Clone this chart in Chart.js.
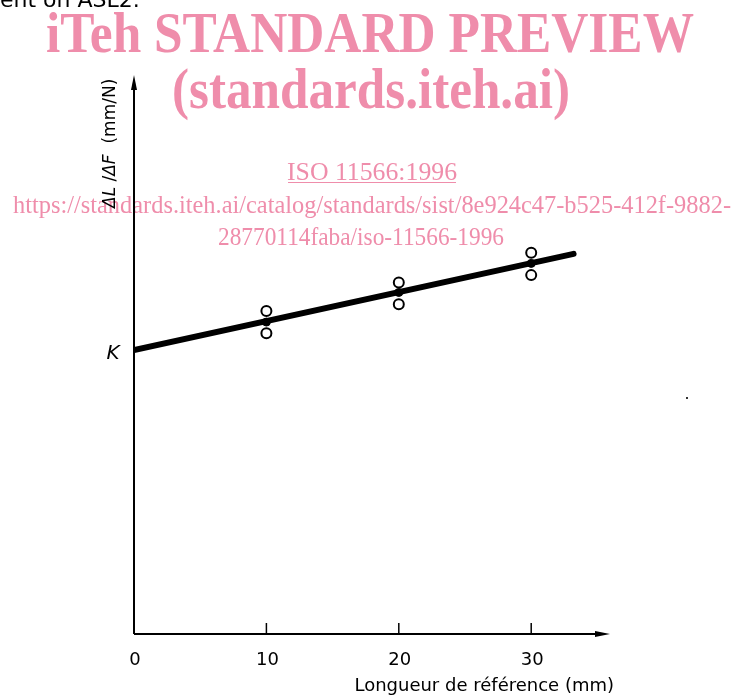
<!DOCTYPE html>
<html>
<head>
<meta charset="utf-8">
<script src="https://cdn.jsdelivr.net/npm/chart.js@4.4.1/dist/chart.umd.min.js"></script>
<style>
  html, body { margin: 0; padding: 0; background: #fff; }
  #wrap { width: 734px; height: 696px; position: relative; }
</style>
</head>
<body>
<div id="wrap"><canvas id="lenChart" width="734" height="696"></canvas></div>
<script>
// reference length (mm) and measured dL/dF, arbitrary units (axis has no scale)
var refLength = [10, 20, 30];
var upperValues = [5.78, 6.29, 6.82];
var lowerValues = [5.38, 5.90, 6.42];
var meanValues = [5.58, 6.11, 6.63];
var fitX = [0, 33.2];
var fitY = [5.08, 6.80];
var xTicks = [0, 10, 20, 30];

var PINK = '#ef8dab';
var AXIS_FONT = '"DejaVu Sans", sans-serif';

function pts(xs, ys) {
  return xs.map(function(x, i) { return {x: x, y: ys[i]}; });
}

var decor = {
  id: 'decor',
  beforeDatasetsDraw: function(chart) {
    var ctx = chart.ctx;
    ctx.save();
    // cropped caption line above the figure
    ctx.fillStyle = '#000';
    ctx.font = '22px ' + AXIS_FONT;
    ctx.textAlign = 'left';
    ctx.textBaseline = 'alphabetic';
    ctx.fillText('ent on ASL2.', 0, 7, 146);

    // watermark
    ctx.fillStyle = PINK;
    ctx.strokeStyle = PINK;
    ctx.textAlign = 'center';
    ctx.font = 'bold 56px "Liberation Serif", serif';
    ctx.fillText('iTeh STANDARD PREVIEW', 370, 52, 648);
    ctx.fillText('(standards.iteh.ai)', 371, 108, 398);
    ctx.font = '26px "Liberation Serif", serif';
    ctx.fillText('ISO 11566:1996', 372, 180, 170);
    ctx.lineWidth = 1.2;
    ctx.beginPath();
    ctx.moveTo(288, 182.5);
    ctx.lineTo(456, 182.5);
    ctx.stroke();
    ctx.fillText('https://standards.iteh.ai/catalog/standards/sist/8e924c47-b525-412f-9882-', 372, 213, 718);
    ctx.fillText('28770114faba/iso-11566-1996', 361, 245, 286);
    ctx.restore();
  },
  afterDatasetsDraw: function(chart) {
    var ctx = chart.ctx;
    var a = chart.chartArea;
    var xs = chart.scales.x;
    ctx.save();
    ctx.strokeStyle = '#000';
    ctx.fillStyle = '#000';
    ctx.lineWidth = 2;

    // axes
    ctx.beginPath();
    ctx.moveTo(a.left, a.bottom);
    ctx.lineTo(a.left, a.top + 8);
    ctx.moveTo(a.left, a.bottom);
    ctx.lineTo(a.right - 8, a.bottom);
    ctx.stroke();

    // arrow heads
    ctx.beginPath();
    ctx.moveTo(a.left, a.top);
    ctx.lineTo(a.left - 3, a.top + 15);
    ctx.lineTo(a.left + 3, a.top + 15);
    ctx.closePath();
    ctx.fill();
    ctx.beginPath();
    ctx.moveTo(a.right + 2, a.bottom);
    ctx.lineTo(a.right - 13, a.bottom - 3);
    ctx.lineTo(a.right - 13, a.bottom + 3);
    ctx.closePath();
    ctx.fill();

    // inward tick marks + labels
    ctx.lineWidth = 1.5;
    ctx.font = '18px ' + AXIS_FONT;
    ctx.textAlign = 'center';
    ctx.textBaseline = 'middle';
    xTicks.forEach(function(t) {
      var px = xs.getPixelForValue(t);
      if (t !== 0) {
        ctx.beginPath();
        ctx.moveTo(px, a.bottom);
        ctx.lineTo(px, a.bottom - 11);
        ctx.stroke();
      }
      ctx.fillText(String(t), px + 1, a.bottom + 26);
    });

    // x title
    ctx.font = '18px ' + AXIS_FONT;
    ctx.textAlign = 'right';
    ctx.fillText('Longueur de r\u00e9f\u00e9rence (mm)', 614, 686, 264);

    // K label at intercept
    var ys = chart.scales.y;
    ctx.font = 'italic 20px ' + AXIS_FONT;
    ctx.textAlign = 'center';
    ctx.fillText('K', 113, ys.getPixelForValue(fitY[0]) + 4);

    // y title, rotated
    ctx.translate(111, 208);
    ctx.rotate(-Math.PI / 2);
    ctx.textAlign = 'left';
    ctx.textBaseline = 'middle';
    var x = 0;
    var parts = [['\u0394L', 'italic'], [' /', ''], ['\u0394F', 'italic'], ['  (mm/N)', '']];
    parts.forEach(function(p) {
      ctx.font = (p[1] ? p[1] + ' ' : '') + '17px ' + AXIS_FONT;
      ctx.fillText(p[0], x, 0);
      x += ctx.measureText(p[0]).width;
    });
    ctx.restore();

    // stray speck
    ctx.fillStyle = '#333';
    ctx.fillRect(686, 397, 2, 2);
  }
};

new Chart(document.getElementById('lenChart'), {
  type: 'scatter',
  data: {
    datasets: [
      {
        label: 'upper',
        data: pts(refLength, upperValues),
        pointRadius: 5,
        pointBackgroundColor: '#fff',
        pointBorderColor: '#000',
        pointBorderWidth: 2,
        showLine: false
      },
      {
        label: 'lower',
        data: pts(refLength, lowerValues),
        pointRadius: 5,
        pointBackgroundColor: '#fff',
        pointBorderColor: '#000',
        pointBorderWidth: 2,
        showLine: false
      },
      {
        label: 'mean',
        data: pts(refLength, meanValues),
        pointRadius: 4,
        pointBackgroundColor: '#000',
        pointBorderColor: '#000',
        showLine: false
      },
      {
        label: 'fit',
        data: pts(fitX, fitY),
        showLine: true,
        borderColor: '#000',
        borderWidth: 6,
        borderCapStyle: 'round',
        pointRadius: 0
      }
    ]
  },
  options: {
    responsive: false,
    devicePixelRatio: 1,
    animation: false,
    layout: { padding: { left: 134, right: 126, top: 75, bottom: 62 } },
    plugins: { legend: { display: false }, tooltip: { enabled: false } },
    scales: {
      x: { type: 'linear', min: 0, max: 35.8, display: false },
      y: { type: 'linear', min: 0, max: 10, display: false }
    }
  },
  plugins: [decor]
});
</script>
</body>
</html>
